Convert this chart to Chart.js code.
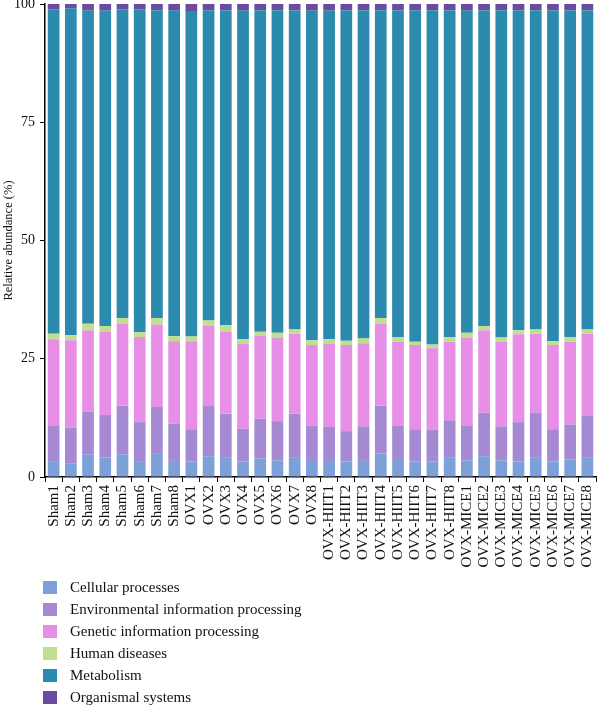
<!DOCTYPE html>
<html>
<head>
<meta charset="utf-8">
<script src="https://cdn.jsdelivr.net/npm/chart.js@4.4.0/dist/chart.umd.js"></script>
<style>
    body { margin: 0; background: #fff; }
    #wrap { width: 600px; height: 706px; position: relative; overflow: hidden; }
    #legend { position: absolute; left: 43px; top: 576px; font-family: "Liberation Serif", serif; font-size: 15px; color: #111; }
    .item { height: 22px; display: flex; align-items: center; }
    .box { width: 14px; height: 13px; margin-right: 13px; }
</style>
</head>
<body>
<div id="wrap">
    <canvas id="chart" width="600" height="580"></canvas>
    <div id="legend"></div>
</div>
<script>
// Samples
const samples = [
    'Sham1', 'Sham2', 'Sham3', 'Sham4', 'Sham5', 'Sham6', 'Sham7', 'Sham8',
    'OVX1', 'OVX2', 'OVX3', 'OVX4', 'OVX5', 'OVX6', 'OVX7', 'OVX8',
    'OVX-HIIT1', 'OVX-HIIT2', 'OVX-HIIT3', 'OVX-HIIT4', 'OVX-HIIT5', 'OVX-HIIT6', 'OVX-HIIT7', 'OVX-HIIT8',
    'OVX-MICE1', 'OVX-MICE2', 'OVX-MICE3', 'OVX-MICE4', 'OVX-MICE5', 'OVX-MICE6', 'OVX-MICE7', 'OVX-MICE8'
];

// Relative abundance (%) per pathway class
const cellular = [3.2, 2.8, 4.7, 4.1, 4.8, 3.2, 4.9, 3.4, 3.3, 4.4, 4.2, 3.3, 3.9, 3.5, 4.2, 3.4,
    3.4, 3.3, 3.4, 5.0, 3.6, 3.3, 3.3, 4.2, 3.5, 4.4, 3.5, 3.3, 4.2, 3.3, 3.7, 4.2];
const environmental = [7.7, 7.6, 9.1, 9.0, 10.3, 8.4, 9.9, 7.9, 6.8, 10.6, 9.2, 6.9, 8.4, 8.3, 9.2, 7.5,
    7.2, 6.4, 7.3, 10.1, 7.3, 6.8, 6.7, 7.8, 7.4, 9.2, 7.2, 8.3, 9.4, 6.8, 7.4, 8.7];
const genetic = [18.2, 18.5, 17.2, 17.6, 17.3, 18.0, 17.4, 17.4, 18.6, 16.9, 17.3, 17.9, 17.5, 17.7, 16.9, 17.0,
    17.6, 18.2, 17.6, 17.3, 17.7, 17.8, 17.2, 16.6, 18.6, 17.4, 17.9, 18.6, 16.7, 17.8, 17.5, 17.4];
const humanDiseases = [1.2, 1.1, 1.4, 1.2, 1.2, 1.0, 1.4, 1.1, 1.0, 1.2, 1.4, 1.0, 0.9, 1.0, 0.9, 1.0,
    0.9, 0.9, 1.0, 1.2, 1.0, 0.7, 0.8, 1.0, 1.0, 0.9, 0.9, 0.8, 0.9, 0.8, 1.0, 0.9];
const metabolism = [68.6, 69.1, 66.2, 66.7, 65.2, 68.2, 65.1, 68.8, 68.8, 65.6, 66.6, 69.5, 68.0, 68.2, 67.5, 69.7,
    69.5, 69.9, 69.4, 65.1, 69.1, 70.1, 70.7, 69.1, 68.1, 66.8, 69.2, 67.7, 67.5, 70.0, 69.1, 67.5];
const organismal = [1.1, 0.9, 1.4, 1.4, 1.2, 1.2, 1.3, 1.4, 1.5, 1.3, 1.3, 1.4, 1.3, 1.3, 1.3, 1.4,
    1.4, 1.3, 1.3, 1.3, 1.3, 1.3, 1.3, 1.3, 1.4, 1.3, 1.3, 1.3, 1.3, 1.3, 1.3, 1.3];

const yTicks = [0, 25, 50, 75, 100];

const series = [
    { label: 'Cellular processes', data: cellular, color: '#7da0d9' },
    { label: 'Environmental information processing', data: environmental, color: '#a58ad3' },
    { label: 'Genetic information processing', data: genetic, color: '#e78ee7' },
    { label: 'Human diseases', data: humanDiseases, color: '#c0df8e' },
    { label: 'Metabolism', data: metabolism, color: '#2b8aad' },
    { label: 'Organismal systems', data: organismal, color: '#6a4b9d' }
];

const FONT = '"Liberation Serif", serif';

const ctx = document.getElementById('chart');
new Chart(ctx, {
    type: 'bar',
    data: {
        labels: samples,
        datasets: series.map(s => ({
            label: s.label,
            data: s.data,
            backgroundColor: s.color,
            borderWidth: 0,
            categoryPercentage: 1,
            barPercentage: 0.68
        }))
    },
    options: {
        responsive: false,
        animation: false,
        layout: { padding: { top: 0, right: 4, left: 0, bottom: 0 } },
        plugins: {
            legend: { display: false },
            tooltip: { enabled: false }
        },
        scales: {
            x: {
                stacked: true,
                grid: { drawOnChartArea: false, color: '#000', tickLength: 5, lineWidth: 1 },
                border: { color: '#000', width: 1.5 },
                ticks: {
                    color: '#111',
                    font: { family: FONT, size: 15 },
                    minRotation: 90,
                    maxRotation: 90,
                    autoSkip: false,
                    padding: 3
                },
                afterFit: s => {
                    s.height = 580 - 477;
                    s.paddingLeft = 0;
                    s.paddingRight = 0;
                }
            },
            y: {
                stacked: true,
                min: 0,
                max: 100,
                afterBuildTicks: s => { s.ticks = yTicks.map(v => ({ value: v })); },
                grid: { drawOnChartArea: false, color: '#000', tickLength: 5, lineWidth: 1 },
                border: { color: '#000', width: 1.5 },
                ticks: {
                    color: '#111',
                    font: { family: FONT, size: 14 },
                    padding: 5
                },
                title: {
                    display: true,
                    text: 'Relative abundance (%)',
                    color: '#111',
                    font: { family: FONT, size: 12.5 },
                    padding: { top: 1, bottom: 0 }
                },
                afterFit: s => {
                    s.width = 45;
                    s.paddingTop = 4;
                    s.paddingBottom = 0;
                }
            }
        }
    }
});

// Legend, one entry per row
const legend = document.getElementById('legend');
series.forEach(s => {
    const item = document.createElement('div');
    item.className = 'item';
    const box = document.createElement('span');
    box.className = 'box';
    box.style.background = s.color;
    const text = document.createElement('span');
    text.textContent = s.label;
    item.appendChild(box);
    item.appendChild(text);
    legend.appendChild(item);
});
</script>
</body>
</html>
